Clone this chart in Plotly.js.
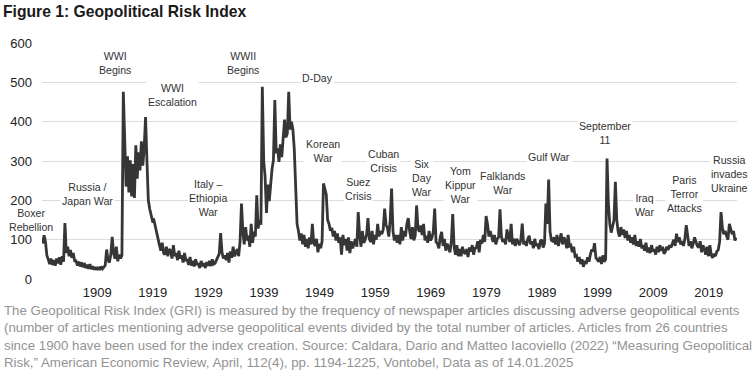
<!DOCTYPE html>
<html>
<head>
<meta charset="utf-8">
<script src="https://cdn.plot.ly/plotly-3.0.1.min.js"></script>
<style>
html,body{margin:0;padding:0;background:#fff;}
#chart{width:752px;height:375px;}
</style>
</head>
<body>
<div id="chart"></div>
<script>
// Quarterly Geopolitical Risk Index values (Q1..Q4 per year)
const startYear = 1900;
const gpr1900s = [90,111,95,60, 50,38,52,36, 48,34,52,40, 55,36,58,44, 142,66,82,58, 74,54,66,46, 46,34,44,32, 42,30,40,28, 36,26,38,25, 32,24,30,23];
const gpr1910s = [30,23,32,26, 30,35,75,48, 42,62,107,66, 52,82,45,62, 52,60,476,319, 235,312,220,302, 210,292,206,340, 255,322,276,350, 288,332,412,300, 200,178,162,148];
const gpr1920s = [150,132,117,98, 86,72,92,66, 62,82,58,76, 72,52,86,58, 66,48,72,52, 60,42,66,48, 48,36,56,34, 46,32,50,38, 38,28,46,33, 40,28,43,34];
const gpr1930s = [46,33,50,38, 40,48,57,64, 117,68,52,60, 48,66,42,70, 54,82,58,66, 76,58,96,192, 120,88,132,98, 110,82,140,92, 120,108,213,128, 150,138,489,300];
const gpr1940s = [260,168,240,198, 250,280,302,455, 320,332,298,342, 310,352,405,360, 370,476,380,400, 380,330,243,140, 122,98,116,88, 112,82,102,78, 106,88,140,92, 84,102,68,90];
const gpr1950s = [78,96,243,228, 215,150,140,123, 130,108,122,98, 116,92,106,62, 112,86,102,72, 106,66,96,78, 90,102,82,170, 112,82,122,92, 100,112,155,102, 94,122,88,112];
const gpr1960s = [100,140,108,122, 114,126,179,138, 130,108,150,230, 122,98,112,92, 112,88,132,98, 122,108,140,155, 122,102,132,98, 110,187,128,120, 136,112,140,98, 110,92,122,98];
const gpr1970s = [105,120,179,94, 90,78,106,120, 84,102,72,90, 80,68,96,165, 80,62,86,58, 76,58,82,68, 64,76,56,80, 70,86,62,78, 80,96,68,100, 90,112,94,160];
const gpr1980s = [140,108,122,104, 94,112,88,102, 106,177,108,94, 102,88,126,108, 94,140,88,102, 84,102,94,86, 100,141,88,96, 84,102,110,88, 96,78,102,84, 90,76,96,100];
const gpr1990s = [80,90,192,140, 253,120,98,96, 106,88,112,84, 100,116,88,106, 96,78,112,84, 86,68,82,58, 60,44,56,38, 50,31,46,38, 55,44,62,75, 70,91,54,48];
const gpr2000s = [44,56,38,60, 44,50,306,190, 140,118,132,150, 247,150,120,108, 132,112,126,104, 122,98,112,92, 106,88,112,84, 96,82,102,78, 86,72,92,68, 80,66,86,70];
const gpr2010s = [76,62,82,68, 86,72,82,64, 70,82,74,86, 80,92,100,84, 115,94,106,88, 96,84,102,137, 102,84,96,78, 90,106,94,84, 80,96,68,86, 76,62,82,58];
const gpr2020s = [86,60,54,64, 58,70,74,95, 170,130,114,122, 110,100,140,125, 114,122,98,105];

const tickYears = [1909,1919,1929,1939,1949,1959,1969,1979,1989,1999,2009,2019];
const yTicks = [0,100,200,300,400,500,600];

const events = [
  {text:"Russia /<br>Japan War", x:1908.1, y:215},
  {text:"WWI<br>Begins", x:1913.1, y:548},
  {text:"WWI<br>Escalation", x:1923.5, y:469},
  {text:"Italy –<br>Ethiopia<br>War", x:1929.9, y:205},
  {text:"WWII<br>Begins", x:1936.2, y:548},
  {text:"D-Day", x:1949.6, y:510},
  {text:"Korean<br>War", x:1950.5, y:325},
  {text:"Suez<br>Crisis", x:1956.9, y:228},
  {text:"Cuban<br>Crisis", x:1961.5, y:300},
  {text:"Six<br>Day<br>War", x:1968.4, y:256},
  {text:"Yom<br>Kippur<br>War", x:1975.2, y:240},
  {text:"Falklands<br>War", x:1982.9, y:243},
  {text:"Gulf War", x:1991.2, y:310},
  {text:"September<br>11", x:2001.3, y:370},
  {text:"Iraq<br>War", x:2008.4, y:188},
  {text:"Paris<br>Terror<br>Attacks", x:2015.5, y:215},
  {text:"Russia<br>invades<br>Ukraine", x:2023.7, y:266}
];

const values = [].concat(gpr1900s,gpr1910s,gpr1920s,gpr1930s,gpr1940s,gpr1950s,gpr1960s,gpr1970s,gpr1980s,gpr1990s,gpr2000s,gpr2010s,gpr2020s);
const dates = values.map((v,i)=> startYear + i/4 + 0.125);

const trace = {
  x: dates, y: values, type:'scatter', mode:'lines',
  line:{color:'#363636', width:2.8}, hoverinfo:'skip'
};

const font = "'Liberation Sans', Arial, sans-serif";
const annotations = events.map(e=>({
  x:e.x, y:e.y, xref:'x', yref:'y', text:e.text, showarrow:false, xanchor:'center', yanchor:'middle',
  font:{family:font, size:10.6, color:'#333333'}, bgcolor:'#ffffff', borderpad:1, align:'center'
}));
// Boxer Rebellion label sits left of the first data point, so place it in paper space
annotations.push({
  x:-0.0158, y:149, xref:'paper', yref:'y', xanchor:'center', yanchor:'middle', text:"Boxer<br>Rebellion", showarrow:false,
  font:{family:font, size:10.6, color:'#333333'}, bgcolor:'#ffffff', borderpad:0, align:'center'
});
annotations.push({
  xref:'paper', yref:'paper', x:-0.0576, y:-0.094, xanchor:'left', yanchor:'top', align:'left',
  showarrow:false,
  text:"The Geopolitical Risk Index (GRI) is measured by the frequency of newspaper articles discussing adverse geopolitical events<br>(number of articles mentioning adverse geopolitical events divided by the total number of articles. Articles from 26 countries<br>since 1900 have been used for the index creation. Source: Caldara, Dario and Matteo Iacoviello (2022) “Measuring Geopolitical<br>Risk,” American Economic Review, April, 112(4), pp. 1194-1225, Vontobel, Data as of 14.01.2025",
  font:{family:font, size:13.3, color:'#939393'}
});

const layout = {
  width:752, height:375,
  margin:{l:42, r:15, t:43, b:96, pad:0},
  paper_bgcolor:'#ffffff', plot_bgcolor:'#ffffff',
  showlegend:false,
  title:{text:"<b>Figure 1: Geopolitical Risk Index</b>", xref:'container', yref:'container', x:0.004, xanchor:'left', y:0.968, yanchor:'middle', font:{family:font, size:15.7, color:'#1a1a1a'}},
  xaxis:{range:[1900,2025], showgrid:false, zeroline:false, showline:false, ticks:'',
    tickmode:'array', tickvals:tickYears.map(y=>y+11/12), ticktext:tickYears.map(String),
    tickfont:{family:font, size:13, color:'#222222'}, ticklabelstandoff:4, fixedrange:true},
  yaxis:{range:[0,600], tickmode:'array', tickvals:yTicks, ticktext:yTicks.map(String),
    showgrid:true, gridcolor:'#dcdcdc', gridwidth:1, zeroline:false, showline:false, ticks:'',
    tickfont:{family:font, size:13, color:'#222222'}, ticklabelstandoff:9, fixedrange:true},
  annotations:annotations
};

Plotly.newPlot('chart',[trace],layout,{displayModeBar:false, staticPlot:true});
</script>
</body>
</html>
